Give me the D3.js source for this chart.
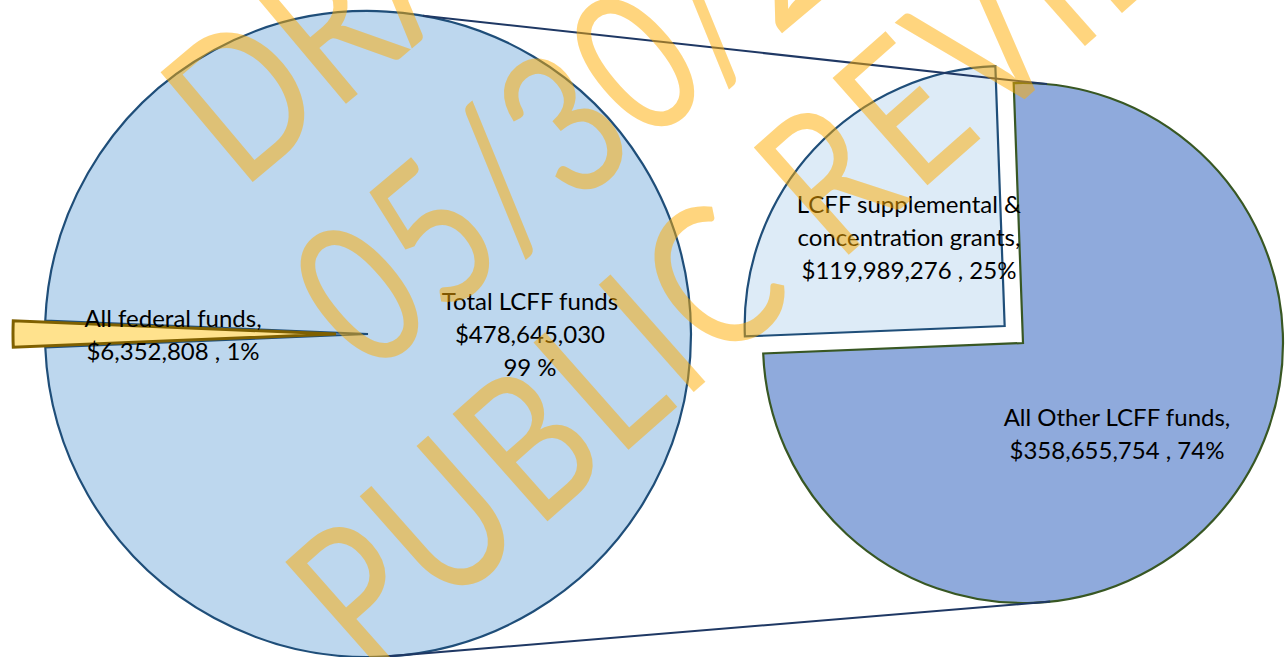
<!DOCTYPE html>
<html>
<head>
<meta charset="utf-8">
<script src="https://cdn.jsdelivr.net/npm/d3@7"></script>
<style>
  body { margin: 0; background: #fff; overflow: hidden; }
  svg { display: block; }
  .lbl { font-family: Lato, "Open Sans", sans-serif; font-size: 24px; fill: #000; }
  .wm { font-family: Lato, "Open Sans", sans-serif; font-size: 200px; fill: #ffad00; opacity: 0.5; }
</style>
</head>
<body>
<svg id="chart" width="1285" height="657"></svg>
<script>
// data
const leftNames = ["All federal funds", "Total LCFF funds"];
const leftValues = [6352808, 478645030];
const leftText = [
  ["All federal funds,", "$6,352,808 , 1%"],
  ["Total LCFF funds", "$478,645,030", "99 %"]
];

const rightNames = ["LCFF supplemental & concentration grants", "All Other LCFF funds"];
const rightValues = [119989276, 358655754];
const rightText = [
  ["LCFF supplemental &", "concentration grants,", "$119,989,276 , 25%"],
  ["All Other LCFF funds,", "$358,655,754 , 74%"]
];

const watermark = ["DRAFT", "05/30/2014", "PUBLIC REVIEW"];

const svg = d3.select("#chart");
const rad = deg => deg * Math.PI / 180;

// left pie
const L = { cx: 368, cy: 334, r: 323 };
const fedShare = leftValues[0] / d3.sum(leftValues);
const leftStart = 1.5 * Math.PI - Math.PI * fedShare; // fed slice points left
const leftPie = d3.pie().sort(null).value(d => d)
  .startAngle(leftStart).endAngle(leftStart + 2 * Math.PI);
const leftArcs = leftPie(leftValues);
const leftArc = d3.arc().innerRadius(0).outerRadius(L.r);

const leftFill = ["#ffe28d", "#bdd7ee"];
const leftStroke = ["#7f6000", "#1f4e79"];
const leftExplode = [32, 0];

function offset(d, dist) {
  const a = (d.startAngle + d.endAngle) / 2;
  return [Math.sin(a) * dist, -Math.cos(a) * dist];
}

const gL = svg.append("g").attr("transform", `translate(${L.cx},${L.cy})`);
// big slice first, exploded federal slice on top
[1, 0].forEach(i => {
  const d = leftArcs[i];
  const o = offset(d, leftExplode[i]);
  gL.append("path")
    .attr("d", leftArc(d))
    .attr("transform", `translate(${o[0]},${o[1]})`)
    .attr("fill", leftFill[i])
    .attr("stroke", leftStroke[i])
    .attr("stroke-width", i === 0 ? 3 : 2.2);
});

// right pie
const R = { cx: 1023, cy: 343, r: 260 };
const rightStart = rad(267.7);
const rightPie = d3.pie().sort(null).value(d => d)
  .startAngle(rightStart).endAngle(rightStart + 2 * Math.PI);
const rightArcs = rightPie(rightValues);
const rightArc = d3.arc().innerRadius(0).outerRadius(R.r);

const rightFill = ["#ddebf7", "#8faadc"];
const rightStroke = ["#1f4e79", "#385723"];
const rightExplode = [25, 0];

const gR = svg.append("g").attr("transform", `translate(${R.cx},${R.cy})`);
rightArcs.forEach((d, i) => {
  const o = offset(d, rightExplode[i]);
  gR.append("path")
    .attr("d", rightArc(d))
    .attr("transform", `translate(${o[0]},${o[1]})`)
    .attr("fill", rightFill[i])
    .attr("stroke", rightStroke[i])
    .attr("stroke-width", 2.2);
});

// connector lines between the pies
function polar(c, deg) {
  return [c.cx + Math.sin(rad(deg)) * c.r, c.cy - Math.cos(rad(deg)) * c.r];
}
const connectors = [[polar(L, 9.8), polar(R, 5.3)], [polar(L, 176.4), polar(R, 174)]];
svg.selectAll("line.conn")
  .data(connectors)
  .enter()
  .append("line")
    .attr("class", "conn")
    .attr("x1", d => d[0][0]).attr("y1", d => d[0][1])
    .attr("x2", d => d[1][0]).attr("y2", d => d[1][1])
    .attr("stroke", "#1f3864")
    .attr("stroke-width", 2);

// labels
function label(lines, x, y) {
  const t = svg.append("text").attr("class", "lbl").attr("text-anchor", "middle");
  lines.forEach((s, i) => {
    t.append("tspan").attr("x", x).attr("y", y + i * 33).text(s);
  });
}
label(leftText[0], 173, 327);
label(leftText[1], 530, 310);
label(rightText[0], 909, 213);
label(rightText[1], 1117, 426);

// watermark: each line rotated about an anchor, squeezed a bit to mimic a narrow face
const squeeze = 0.8;
const wmAnchor = [[0, 0], [0, 0], [350, 600]];
const wmAngle = [-40, -40, -41.5];
const wmPos = [[62, 302], [40, 528], [-38, 72]];
const wmSpacing = [0, 3, 6];
watermark.forEach((s, i) => {
  svg.append("g")
    .attr("transform", `translate(${wmAnchor[i][0]},${wmAnchor[i][1]}) rotate(${wmAngle[i]}) scale(${squeeze},1)`)
    .append("text")
      .attr("class", "wm")
      .attr("x", wmPos[i][0] / squeeze)
      .attr("y", wmPos[i][1])
      .style("letter-spacing", wmSpacing[i] + "px")
      .text(s);
});
</script>
</body>
</html>
